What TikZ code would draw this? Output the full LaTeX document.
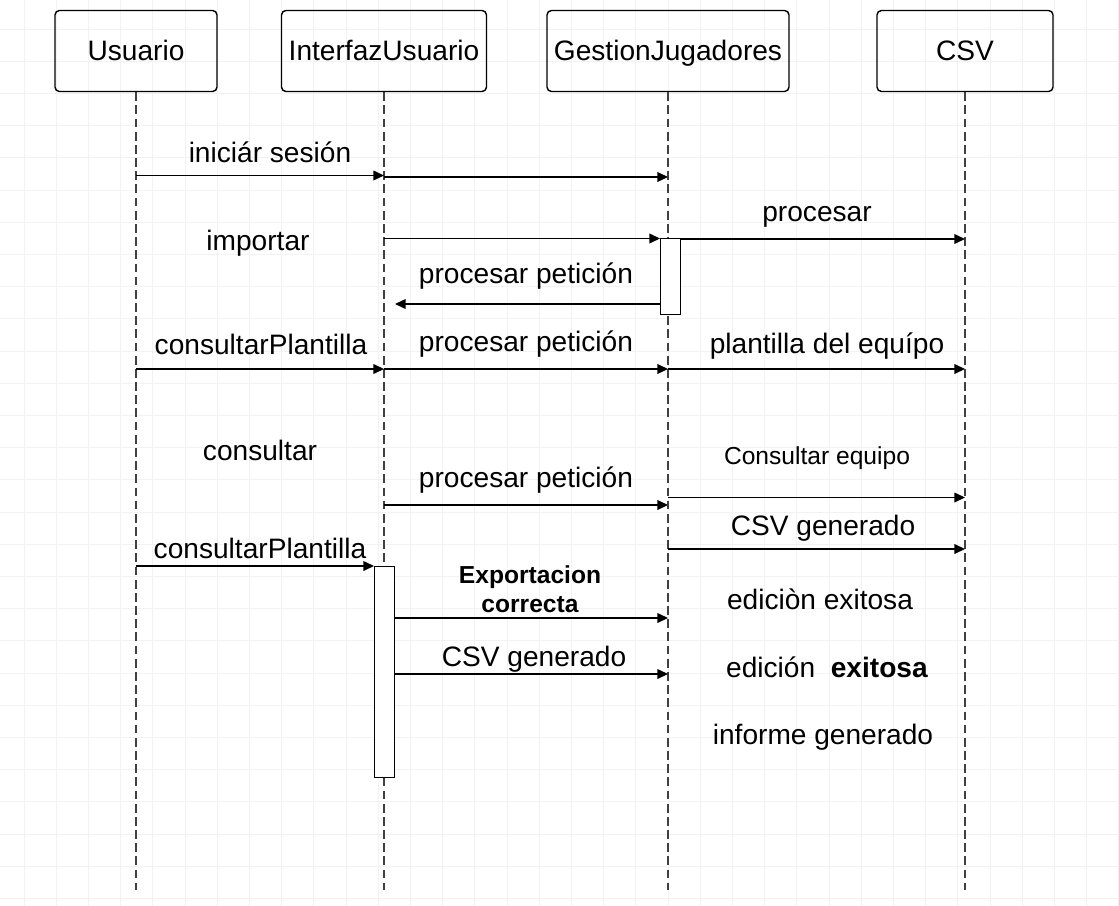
\documentclass[tikz,border=0pt]{standalone}
\usepackage{fontspec}
\setmainfont{Liberation Sans}
\usetikzlibrary{arrows.meta}

\begin{document}
\begin{tikzpicture}[
    x=0.02cm, y=-0.02cm,
    font=\fontsize{16}{19}\selectfont,
    gridline/.style={draw=black!5, line width=0.45pt},
    actor/.style={draw, line width=0.8pt, rounded corners=2.5pt, minimum height=1.62cm, inner sep=0pt, text height=1.06em, text depth=0em},
    lifeline/.style={draw=black!75, line width=0.8pt, dash pattern=on 5pt off 2.5pt},
    activation/.style={draw, fill=white, line width=0.8pt, inner sep=0pt, anchor=north west},
    msg/.style={-{Triangle[length=6pt,width=5.5pt]}, line width=0.7pt},
    lbl/.style={inner sep=0pt}
  ]
    \useasboundingbox (0,0) rectangle (1119,906);
    \fill[white] (0,0) rectangle (1119,906);
    % background grid
    \foreach \gx in {24,56.2,...,1119} \draw[gridline] (\gx,0) -- (\gx,906);
    \foreach \gy in {29,61.2,...,906} \draw[gridline] (0,\gy) -- (1119,\gy);

    % participants
    \node[actor, minimum width=3.24cm] (usr) at (136,51) {Usuario};
    \node[actor, minimum width=4.1cm] (ui) at (384,51) {InterfazUsuario};
    \node[actor, minimum width=4.84cm] (gj) at (668,51) {GestionJugadores};
    \node[actor, minimum width=3.52cm] (csv) at (965,51) {CSV};

    % lifelines
    \coordinate (usrEnd) at (usr |- 0,890);
    \coordinate (uiEnd) at (ui |- 0,890);
    \coordinate (gjEnd) at (gj |- 0,890);
    \coordinate (csvEnd) at (csv |- 0,890);
    \draw[lifeline] (usr) -- (usrEnd);
    \draw[lifeline] (ui) -- (uiEnd);
    \draw[lifeline] (gj) -- (gjEnd);
    \draw[lifeline] (csv) -- (csvEnd);

    % activations
    \node[activation, minimum width=0.4cm, minimum height=1.52cm] (gjAct) at (660,238) {};
    \node[activation, minimum width=0.4cm, minimum height=4.22cm] (uiAct) at (374,566) {};

    % messages
    \draw[msg] (usr |- 0,175.5) -- (ui |- 0,175.5);
    \draw[msg] (ui |- 0,177) -- (gj |- 0,177);
    \draw[msg] (ui |- 0,238.5) -- (gjAct.west |- 0,238.5);
    \draw[msg] (gjAct.east |- 0,239) -- (csv |- 0,239);
    \draw[msg, shorten >=0.22cm] (gjAct.west |- 0,304) -- (ui |- 0,304);
    \draw[msg] (usr |- 0,369) -- (ui |- 0,369);
    \draw[msg] (ui |- 0,369) -- (gj |- 0,369);
    \draw[msg] (gj |- 0,369) -- (csv |- 0,369);
    \draw[msg] (ui |- 0,505) -- (gj |- 0,505);
    \draw[msg] (gj |- 0,497.5) -- (csv |- 0,497.5);
    \draw[msg] (gj |- 0,549) -- (csv |- 0,549);
    \draw[msg] (usr |- 0,566) -- (uiAct.west |- 0,566);
    \draw[msg] (uiAct.east |- 0,618) -- (gj |- 0,618);
    \draw[msg] (uiAct.east |- 0,674) -- (gj |- 0,674);

    % labels
    \node[lbl] (lIniciar) at (270,152) {iniciár sesión};
    \node[lbl] (lImportar) at (258,243) {importar};
    \node[lbl] (lProcesar) at (817,217) {procesar};
    \node[lbl] (lPeticion) at (526,276) {procesar petición};
    \node[lbl] (lPlantilla) at (261,344) {consultarPlantilla};
    \node[lbl] (lPeticionB) at (526,344) {procesar petición};
    \node[lbl] (lEquipo) at (827,346) {plantilla del equípo};
    \node[lbl] (lConsultar) at (260,450) {consultar};
    \node[lbl] (lPeticionC) at (526,480) {procesar petición};
    \node[lbl, font=\fontsize{14}{17}\selectfont] (lConsEquipo) at (817,458) {Consultar equipo};
    \node[lbl] (lCsvA) at (823,528) {CSV generado};
    \node[lbl] (lPlantillaB) at (260,548) {consultarPlantilla};
    \node[lbl, align=center, font=\bfseries\fontsize{14}{16.5}\selectfont] (lExport) at (530,589) {Exportacion\\correcta};
    \node[lbl] (lCsvB) at (534,659) {CSV generado};
    \node[lbl] (lEdicion) at (820,599) {ediciòn exitosa};
    \node[lbl] (lEdicionB) at (827,667) {edición\ \ \textbf{exitosa}};
    \node[lbl] (lInforme) at (823,737) {informe generado};
  \end{tikzpicture}
\end{document}
